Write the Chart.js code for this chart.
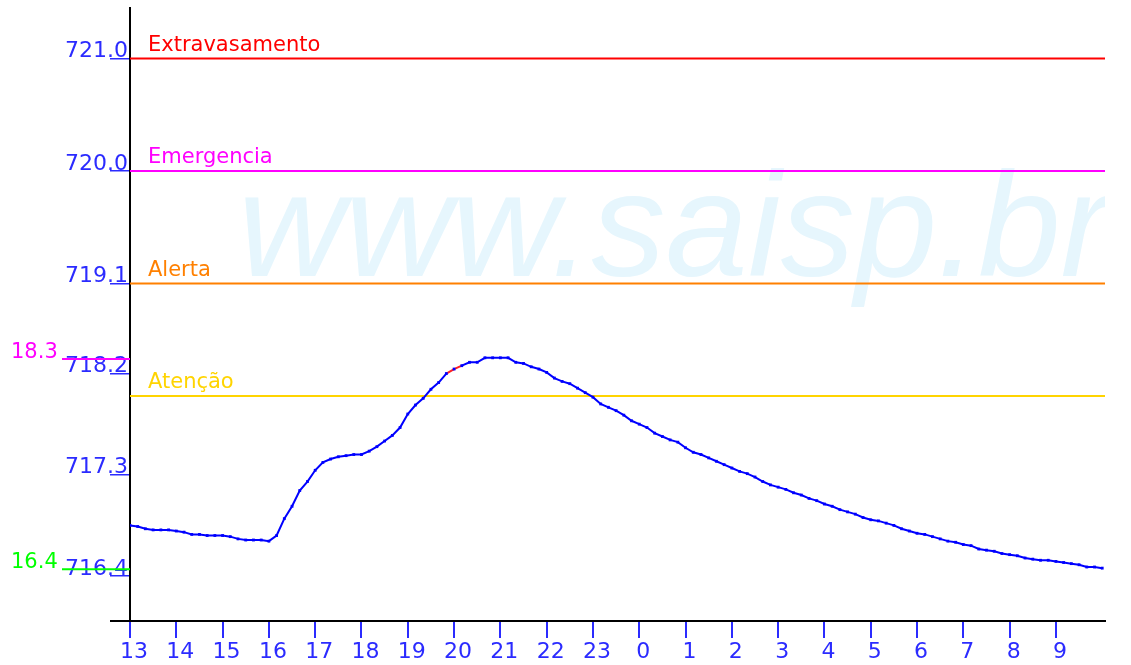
<!DOCTYPE html>
<html>
<head>
<meta charset="utf-8">
<script src="https://cdn.jsdelivr.net/npm/chart.js@4.4.1/dist/chart.umd.min.js"></script>
<style>
  html, body { margin: 0; padding: 0; background: #fff; }
  canvas { display: block; }
</style>
</head>
<body>
<canvas id="nivel" width="1131" height="665"></canvas>
<script>
// nivel de 10 em 10 minutos, a partir das 13h
var stepMinutes = 10;
var levels = [
  716.85, 716.84, 716.82, 716.81, 716.81, 716.81, 716.80, 716.79, 716.77, 716.77,
  716.76, 716.76, 716.76, 716.75, 716.73, 716.72, 716.72, 716.72, 716.71, 716.76,
  716.91, 717.02, 717.16, 717.24, 717.34, 717.41, 717.44, 717.46, 717.47, 717.48,
  717.48, 717.51, 717.55, 717.60, 717.65, 717.72, 717.84, 717.92, 717.98, 718.06,
  718.12, 718.20, 718.24, 718.27, 718.30, 718.30, 718.34, 718.34, 718.34, 718.34,
  718.30, 718.29, 718.26, 718.24, 718.21, 718.16, 718.13, 718.11, 718.07, 718.03,
  717.99, 717.93, 717.90, 717.87, 717.83, 717.78, 717.75, 717.72, 717.67, 717.64,
  717.61, 717.59, 717.54, 717.50, 717.48, 717.45, 717.42, 717.39, 717.36, 717.33,
  717.31, 717.28, 717.24, 717.21, 717.19, 717.17, 717.14, 717.12, 717.09, 717.07,
  717.04, 717.02, 716.99, 716.97, 716.95, 716.92, 716.90, 716.89, 716.87, 716.85,
  716.82, 716.80, 716.78, 716.77, 716.75, 716.73, 716.71, 716.70, 716.68, 716.67,
  716.64, 716.63, 716.62, 716.60, 716.59, 716.58, 716.56, 716.55, 716.54, 716.54,
  716.53, 716.52, 716.51, 716.50, 716.48, 716.48, 716.47
];
// trecho da curva que aparece em vermelho (indices)
var redFrom = 41, redTo = 43;

var hourLabels = ["13","14","15","16","17","18","19","20","21","22","23",
                  "0","1","2","3","4","5","6","7","8","9"];
var xMax = 21.06;

var yMin = 716.0, yMax = 721.45;
var yTickValues = [716.4, 717.3, 718.2, 719.0, 720.0, 721.0];
var yTickLabels = ["716.4", "717.3", "718.2", "719.1", "720.0", "721.0"];

var thresholdNames  = ["Extravasamento", "Emergencia", "Alerta", "Atenção"];
var thresholdValues = [721.0, 720.0, 719.0, 718.0];
var thresholdColors = ["#ff0000", "#ff00ff", "#ff8000", "#ffd400"];

// max / min marcados a esquerda
var extremeLabels = ["18.3", "16.4"];
var extremeValues = [718.33, 716.46];
var extremeColors = ["#ff00ff", "#00ff00"];

var blue = "#2b2bff";
var font = "DejaVu Sans";

var levelData = levels.map(function(v, i){ return {x: i * stepMinutes / 60, y: v}; });

var datasets = [{
    data: levelData,
    borderColor: "#0000ff",
    borderWidth: 2,
    pointStyle: "rect",
    pointRadius: 2,
    pointBorderWidth: 0,
    pointBackgroundColor: "#0000ff",
    segment: {
        borderColor: function(c){
            return (c.p0DataIndex >= redFrom && c.p0DataIndex < redTo) ? "#ff2020" : undefined;
        }
    }
}];
thresholdValues.forEach(function(v, i){
    datasets.push({
        data: [{x: 0, y: v}, {x: xMax, y: v}],
        borderColor: thresholdColors[i],
        borderWidth: 2,
        pointRadius: 0
    });
});

const watermark = {
    id: "watermark",
    beforeDatasetsDraw(chart){
        const {ctx, chartArea} = chart;
        ctx.save();
        ctx.beginPath();
        ctx.rect(chartArea.left, chartArea.top, chartArea.width, chartArea.height);
        ctx.clip();
        ctx.font = 'italic 148px "Liberation Sans"';
        ctx.fillStyle = "#e6f6fd";
        ctx.textBaseline = "alphabetic";
        ctx.fillText("www.saisp.br", 238, 276);
        ctx.restore();
    }
};

const levelLabels = {
    id: "levelLabels",
    afterDatasetsDraw(chart){
        const {ctx, chartArea, scales: {y}} = chart;
        ctx.save();
        ctx.font = "21px " + font;
        ctx.textAlign = "left";
        ctx.textBaseline = "alphabetic";
        thresholdNames.forEach(function(name, i){
            ctx.fillStyle = thresholdColors[i];
            ctx.fillText(name, chartArea.left + 18, y.getPixelForValue(thresholdValues[i]) - 8);
        });
        ctx.restore();
    },
    afterDraw(chart){
        const {ctx, chartArea, scales: {y}} = chart;
        ctx.save();
        // eixo x continua um pouco a esquerda
        ctx.strokeStyle = "#000";
        ctx.lineWidth = 2;
        ctx.beginPath();
        ctx.moveTo(chartArea.left - 20, chartArea.bottom);
        ctx.lineTo(chartArea.left, chartArea.bottom);
        ctx.stroke();

        ctx.font = "21px " + font;
        ctx.textAlign = "left";
        ctx.textBaseline = "alphabetic";
        extremeLabels.forEach(function(label, i){
            const py = y.getPixelForValue(extremeValues[i]);
            ctx.strokeStyle = extremeColors[i];
            ctx.lineWidth = 2;
            ctx.beginPath();
            ctx.moveTo(62, py);
            ctx.lineTo(chartArea.left, py);
            ctx.stroke();
            ctx.fillStyle = extremeColors[i];
            ctx.fillText(label, 11, py - 1);
        });
        ctx.restore();
    }
};

new Chart(document.getElementById("nivel"), {
    type: "line",
    data: {datasets: datasets},
    plugins: [watermark, levelLabels],
    options: {
        responsive: false,
        animation: false,
        devicePixelRatio: 1,
        layout: {padding: {top: 8, right: 26, left: 0, bottom: 0}},
        plugins: {legend: {display: false}, tooltip: {enabled: false}},
        scales: {
            x: {
                type: "linear",
                min: 0,
                max: xMax,
                afterBuildTicks: function(scale){
                    scale.ticks = hourLabels.map(function(l, i){ return {value: i}; });
                },
                afterFit: function(scale){ scale.height = 44; },
                grid: {drawOnChartArea: false, drawTicks: true, tickLength: 17, color: blue, lineWidth: 2},
                border: {display: true, color: "#000", width: 2},
                ticks: {
                    autoSkip: false,
                    maxRotation: 0,
                    padding: 1,
                    labelOffset: 4,
                    color: blue,
                    font: {family: font, size: 22},
                    callback: function(v, i){ return hourLabels[i]; }
                }
            },
            y: {
                type: "linear",
                min: yMin,
                max: yMax,
                afterBuildTicks: function(scale){
                    scale.ticks = yTickValues.map(function(v){ return {value: v}; });
                },
                afterFit: function(scale){ scale.width = 130; },
                grid: {drawOnChartArea: false, drawTicks: true, tickLength: 20, color: blue, lineWidth: 1.5},
                border: {display: true, color: "#000", width: 2},
                ticks: {
                    autoSkip: false,
                    padding: -18,
                    labelOffset: -7,
                    color: blue,
                    font: {family: font, size: 22},
                    callback: function(v, i){ return yTickLabels[i]; }
                }
            }
        }
    }
});
</script>
</body>
</html>
